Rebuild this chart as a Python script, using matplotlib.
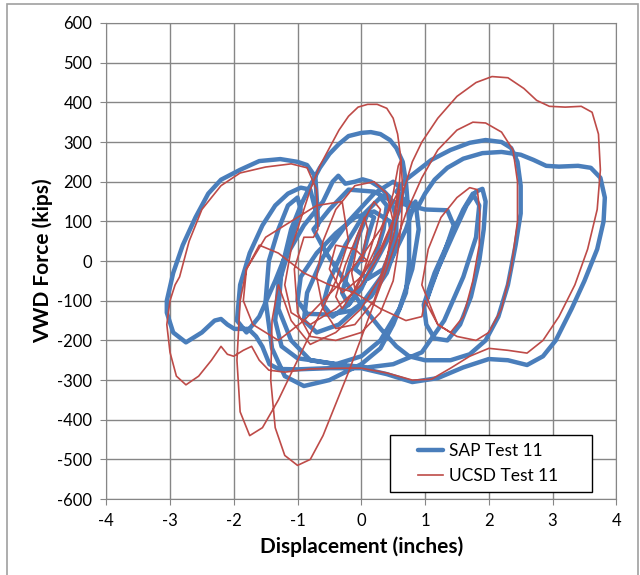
import matplotlib.pyplot as plt
from matplotlib.patches import Rectangle

# SAP Test 11 path as (displacement in, force kips)
sap_pts = [
    # small central cycles
    (0.0, 0), (0.1, 60), (0.2, 110), (0.1, 120), (-0.05, 60), (-0.2, -20), (-0.3, -80),
    (-0.2, -110), (0.0, -70), (0.2, 0), (0.35, 80), (0.4, 140), (0.3, 160), (0.05, 120),
    (-0.25, 40), (-0.5, -50), (-0.6, -110), (-0.45, -140), (-0.2, -110), (0.1, -40),
    (0.4, 50), (0.6, 130), (0.65, 180), (0.5, 200), (0.2, 170), (-0.2, 100), (-0.6, 10),
    (-0.85, -80), (-0.9, -150), (-0.7, -180), (-0.35, -160), (0.0, -110), (0.4, -20),
    (0.7, 80), (0.85, 150),
    # top centre arc
    (0.9, 80), (0.8, -20), (0.6, -120), (0.3, -200), (0.0, -240), (-0.4, -260),
    (-0.8, -250), (-1.1, -200), (-1.3, -120), (-1.25, -20), (-1.1, 80), (-0.95, 140),
    (-0.8, 190), (-0.65, 235), (-0.5, 270), (-0.35, 295), (-0.2, 315), (0.0, 323),
    (0.15, 325), (0.3, 320), (0.45, 305), (0.55, 285), (0.65, 250), (0.7, 200), (0.75, 100),
    (0.75, 0), (0.7, -80), (0.5, -160), (0.3, -220), (0.0, -260), (-0.5, -300),
    (-0.9, -315), (-1.2, -290), (-1.4, -220), (-1.5, -100), (-1.45, 0), (-1.3, 80),
    (-1.15, 140), (-1.0, 160), (-0.95, 130), (-1.1, 50), (-1.35, -50), (-1.6, -140),
    (-1.8, -180), (-1.95, -150), (-1.9, -60), (-1.75, 20), (-1.55, 90), (-1.35, 140),
    (-1.15, 170), (-0.95, 185), (-0.8, 180), (-0.72, 130), (-0.68, 90),
    # big left arc and outer envelope
    (-0.68, 100), (-0.69, 136), (-0.72, 212), (-0.85, 242), (-1.0, 250), (-1.27, 257),
    (-1.6, 252), (-1.9, 230), (-2.2, 205), (-2.4, 170), (-2.6, 110), (-2.8, 40),
    (-2.95, -30), (-3.05, -100), (-3.05, -130), (-2.95, -180), (-2.75, -205), (-2.5, -180),
    (-2.3, -150), (-2.2, -146), (-2.1, -160), (-1.99, -171), (-1.77, -171), (-1.65, -190),
    (-1.55, -216), (-1.44, -260), (-1.3, -272), (-1.0, -273), (-0.5, -270), (0.0, -270),
    (0.4, -285), (0.8, -305), (1.2, -295), (1.6, -268), (2.0, -247), (2.3, -250),
    (2.6, -262), (2.85, -240), (3.05, -200), (3.3, -120), (3.5, -50), (3.7, 30),
    (3.8, 100), (3.82, 160), (3.75, 210), (3.6, 235), (3.4, 240), (3.1, 238), (2.9, 240),
    (2.7, 255), (2.5, 268), (2.2, 275), (1.9, 272), (1.6, 258), (1.35, 235), (1.15, 205),
    (1.0, 170), (0.9, 140),
    # 300 kip arc
    (0.7, 150), (0.55, 175), (0.7, 205), (0.9, 230), (1.1, 255), (1.4, 280), (1.7, 298),
    (1.95, 305), (2.2, 300), (2.35, 285), (2.45, 250), (2.5, 190), (2.5, 120), (2.42, 40),
    (2.3, -60), (2.15, -140), (1.95, -200), (1.7, -235), (1.4, -250), (1.0, -250),
    (0.75, -240), (0.55, -215), (0.3, -170), (0.0, -110), (-0.3, -40), (-0.55, 20),
    (-0.75, 80), (-0.5, 130), (-0.2, 180), (0.2, 175), (0.5, 150), (0.75, 140),
    # loop between 1 and 2 in
    (1.0, 130), (1.35, 128), (1.45, 90), (1.3, 20), (1.1, -60), (1.0, -110), (1.2, -20),
    (1.45, 70), (1.65, 140), (1.8, 175), (1.9, 182), (1.95, 150), (1.92, 80), (1.85, 0),
    (1.72, -90), (1.55, -160), (1.35, -200), (1.15, -195), (1.02, -160), (0.98, -110),
    (1.15, -30), (1.4, 60), (1.6, 130), (1.75, 170), (1.85, 140), (1.8, 60), (1.6, -40),
    (1.3, -150), (0.95, -230), (0.5, -260), (0.1, -268), (-0.3, -262), (-0.7, -252),
    (-1.0, -245),
    # inner left loops
    (-1.25, -215), (-1.35, -150), (-1.3, -60), (-1.15, 20), (-0.9, 90), (-0.6, 150),
    (-0.45, 200), (-0.36, 215), (-0.25, 195), (-0.1, 200), (0.02, 206), (0.15, 200),
    (0.3, 185), (0.45, 160), (0.55, 110), (0.55, 40), (0.4, -30), (0.15, -90),
    (-0.15, -125), (-0.5, -135), (-0.85, -133), (-1.0, -100), (-0.95, -40), (-0.7, 20),
    (-0.4, 70), (-0.1, 110), (0.2, 125), (0.45, 100), (0.5, 40), (0.35, -20), (0.1, -45),
    (-0.1, -20), (0.0, 10),
]

# UCSD Test 11 path
ucsd_pts = [
    # small central cycles
    (0.0, 0), (0.1, 80), (0.05, 110), (-0.05, 50), (-0.15, -30), (-0.1, -70), (0.05, -20),
    (0.2, 60), (0.3, 130), (0.2, 150), (0.0, 90), (-0.25, -10), (-0.4, -90), (-0.3, -120),
    (-0.05, -60), (0.25, 40), (0.5, 170), (0.58, 240), (0.62, 255), (0.6, 200), (0.5, 100),
    (0.4, 0), (0.2, -100), (-0.1, -160), (-0.4, -170), (-0.6, -120), (-0.7, -40),
    (-0.6, 50), (-0.4, 130), (-0.1, 190), (0.2, 200), (0.4, 170), (0.5, 100), (0.3, 20),
    (0.0, -60), (-0.4, -120), (-0.8, -160), (-1.1, -130), (-1.2, -60), (-1.1, 30),
    # top centre arc
    (-1.0, 80), (-0.8, 180), (-0.65, 240), (-0.5, 285), (-0.35, 330), (-0.2, 365),
    (-0.05, 388), (0.1, 395), (0.25, 395), (0.4, 385), (0.5, 360), (0.57, 320),
    (0.62, 260), (0.65, 180), (0.63, 100), (0.58, 30), (0.5, -50), (0.3, -130),
    (0.0, -180), (-0.4, -200), (-0.8, -190), (-1.0, -130), (-1.05, -20), (-0.9, 60),
    (-0.75, 60),
    # left arc and lower envelope
    (-0.68, 80), (-0.7, 180), (-0.85, 235), (-1.1, 245), (-1.5, 237), (-1.9, 222),
    (-2.2, 190), (-2.5, 130), (-2.7, 50), (-2.85, -40), (-2.92, -60), (-3.0, -100),
    (-3.05, -160), (-3.0, -230), (-2.9, -290), (-2.75, -312), (-2.55, -290), (-2.35, -250),
    (-2.2, -215), (-2.1, -235), (-2.0, -240), (-1.85, -225), (-1.72, -215), (-1.6, -250),
    (-1.45, -275), (-1.2, -280), (-0.8, -272), (-0.3, -270), (0.0, -270), (0.4, -282),
    (0.8, -300), (1.1, -298), (1.4, -270), (1.7, -240), (2.0, -220), (2.3, -225),
    (2.6, -232), (2.85, -200), (3.1, -140), (3.35, -60), (3.55, 30), (3.7, 130),
    (3.75, 230), (3.72, 320), (3.62, 375), (3.45, 390), (3.2, 388), (2.95, 390),
    (2.75, 405), (2.55, 435), (2.3, 462), (2.05, 465), (1.8, 450), (1.5, 415), (1.2, 360),
    (0.95, 300), (0.8, 250), (0.65, 170), (0.5, 60), (0.3, -40), (0.0, -120),
    (-0.4, -180), (-0.8, -210), (-1.1, -150), (-1.3, -60), (-1.4, -150),
    # deep loop to -515
    (-1.42, -300), (-1.35, -420), (-1.2, -490), (-1.0, -515), (-0.8, -500), (-0.6, -440),
    (-0.4, -360), (-0.2, -280), (0.1, -150), (0.4, -20), (0.7, 120), (0.95, 210),
    # 350 kip arc
    (1.2, 280), (1.5, 330), (1.75, 350), (1.95, 348), (2.2, 325), (2.38, 280), (2.45, 200),
    (2.45, 100), (2.35, -20), (2.2, -120), (2.0, -180), (1.8, -200), (1.5, -190),
    (1.2, -160), (0.95, -60),
    # loop between 1 and 2 in
    (1.05, 30), (1.25, 110), (1.5, 160), (1.7, 185), (1.82, 180), (1.86, 120), (1.85, 40),
    (1.75, -50), (1.6, -140), (1.4, -180), (1.2, -160), (1.0, -100), (0.95, -140),
    (0.7, -150), (0.3, -120), (-0.1, -80), (-0.5, -60), (-0.9, -30), (-1.3, 20),
    (-1.6, 40), (-1.8, -20), (-1.9, -100),
    # deep loop to -440
    (-1.95, -250), (-1.9, -380), (-1.75, -440), (-1.55, -420), (-1.3, -350), (-1.0, -250),
    (-0.7, -150), (-0.4, -50), (-0.2, 50), (-0.3, 150), (-0.7, 140), (-1.1, 100),
    (-1.5, 60), (-1.8, -20), (-1.85, -100), (-1.7, -160), (-1.3, -200), (-0.9, -150),
    (-0.6, -100), (-0.3, -50), (0.0, 10), (0.3, 80), (0.5, 150), (0.6, 180), (0.55, 120),
    (0.3, 30), (0.0, -40), (-0.3, -80), (-0.5, -20), (-0.4, 40), (-0.1, 30), (0.1, 0),
    (0.0, 0),
]

x_ticks = [-4, -3, -2, -1, 0, 1, 2, 3, 4]
y_ticks = list(range(-600, 601, 100))

sap_x, sap_y = zip(*sap_pts)
ucsd_x, ucsd_y = zip(*ucsd_pts)

plt.rcParams['font.family'] = ['Lato', 'DejaVu Sans']
plt.rcParams['axes.unicode_minus'] = False

fig = plt.figure(figsize=(6.4, 5.75), dpi=100)
ax = fig.add_axes([0.166, 0.132, 0.797, 0.828])

ax.plot(sap_x, sap_y, color='#4a7ebb', lw=3.2, label='SAP Test 11', zorder=3,
        solid_joinstyle='round', solid_capstyle='round')
ax.plot(ucsd_x, ucsd_y, color='#be4b48', lw=1.2, label='UCSD Test 11', zorder=4,
        solid_joinstyle='round')

ax.set_xlim(-4, 4)
ax.set_ylim(-600, 600)
ax.set_xticks(x_ticks)
ax.set_yticks(y_ticks)
ax.tick_params(labelsize=12, length=4, color='#868686', pad=6)
ax.grid(True, color='#868686', lw=1)
ax.set_axisbelow(True)
for s in ax.spines.values():
    s.set_color('#868686')

ax.set_xlabel('Displacement (inches)', fontsize=15, fontweight='bold', labelpad=5)
ax.set_ylabel('VWD Force (kips)', fontsize=15, fontweight='bold', labelpad=3)

leg = ax.legend(loc='lower left', bbox_to_anchor=(0.557, 0.015, 0.396, 0.113),
                mode='expand', borderaxespad=0, fontsize=12.5, fancybox=False,
                framealpha=1, edgecolor='black', handlelength=2.6, borderpad=0.45,
                labelspacing=0.55, handletextpad=0.3)
leg.get_frame().set_linewidth(1.0)
# indent the legend keys like the original
for h in leg.legend_handles:
    xd = list(h.get_xdata())
    yd = list(h.get_ydata())
    x0 = xd[0] + 0.45 * (xd[-1] - xd[0])
    h.set_data([x0, xd[-1]], [yd[0], yd[0]])

# outer chart border
fig.patches.append(Rectangle((0.011, -0.02), 0.986, 1.013, transform=fig.transFigure,
                             fill=False, edgecolor='#a0a0a0', lw=1.2))

plt.savefig('out.png', dpi=100)
